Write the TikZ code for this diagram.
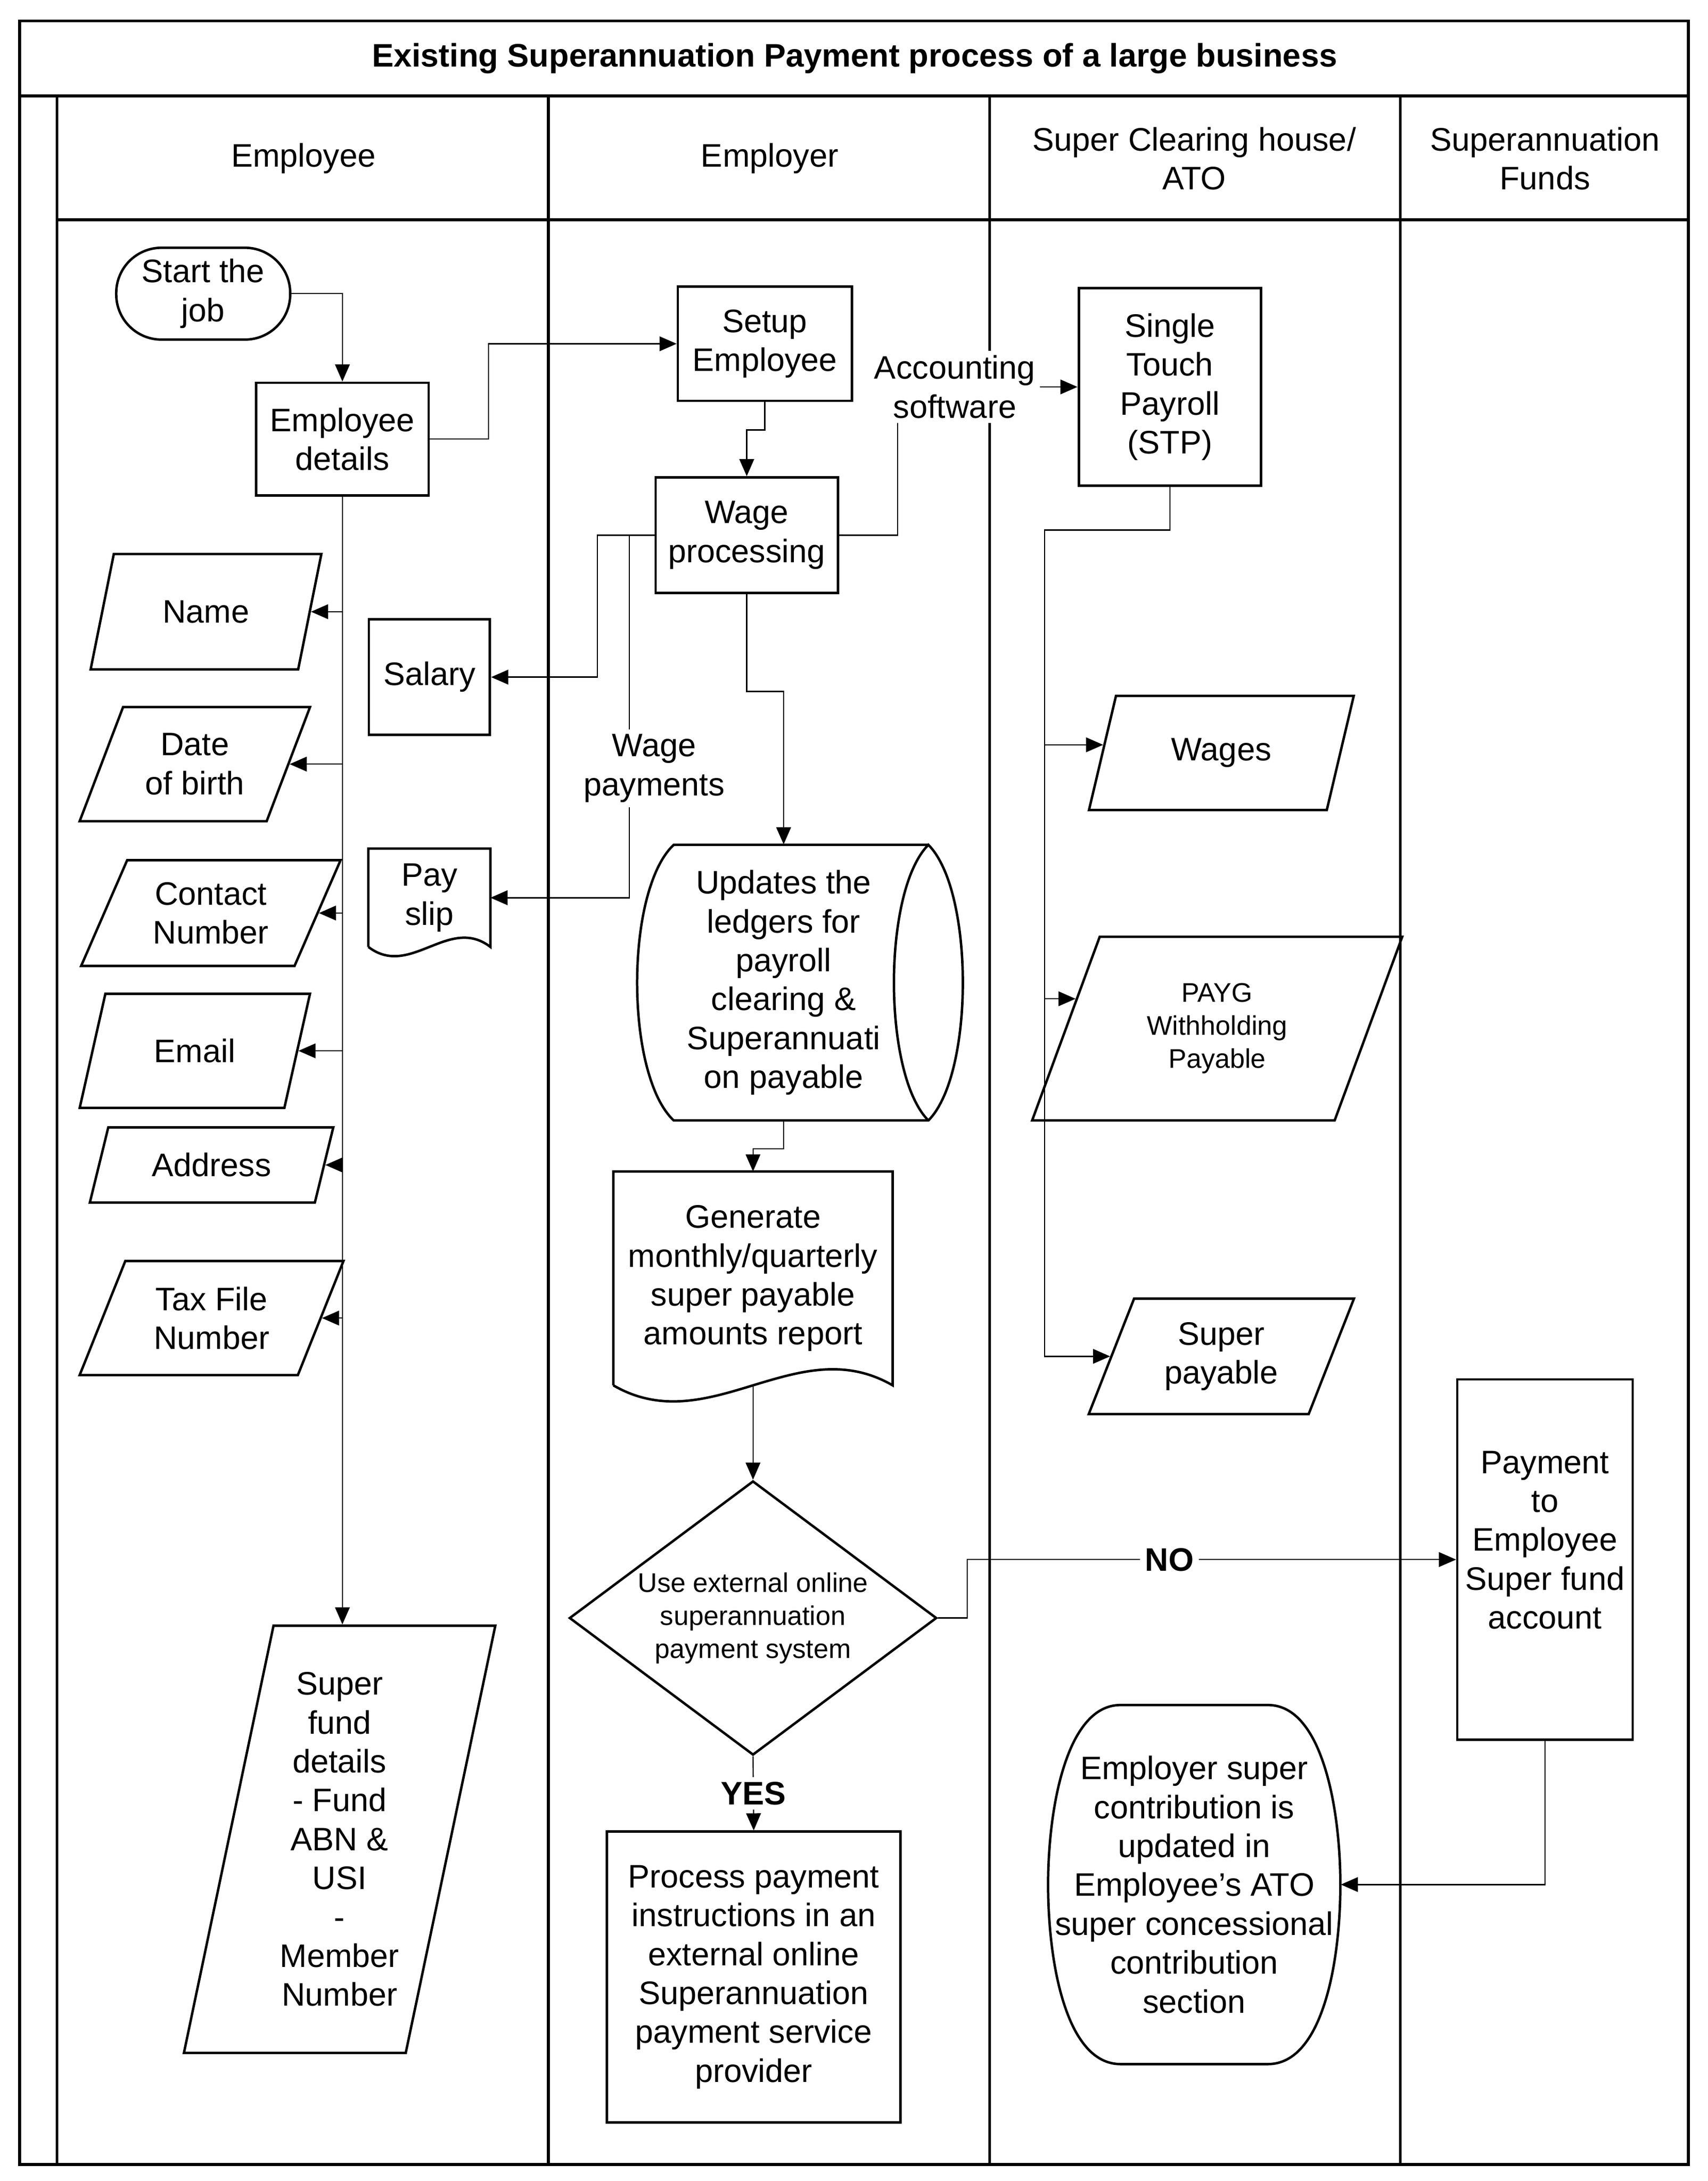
\documentclass[tikz,border=0pt]{standalone}
\usepackage{fontspec}
\setmainfont{Liberation Sans}
\usetikzlibrary{shapes.geometric,arrows.meta,calc}

\begin{document}
\begin{tikzpicture}[x=0.02cm, y=-0.02cm,
  every node/.style={font=\fontsize{13.3}{15.9}\selectfont, align=center, inner sep=1pt},
  lane/.style={line width=1.2pt},
  box/.style={draw, line width=1pt, rectangle},
  shp/.style={line width=1pt},
  io/.style={draw, line width=1pt, trapezium, trapezium left angle=#1, trapezium right angle={180-#1}, trapezium stretches=true, inner sep=0pt},
  arr/.style={line width=.5pt, -{Triangle[length=7pt,width=6pt]}},
  lbl/.style={fill=white, inner sep=2pt},
  bold/.style={font=\fontsize{13.3}{15.9}\selectfont\bfseries},
  small/.style={font=\fontsize{11}{13.5}\selectfont}
]
\useasboundingbox (0,0) rectangle (1227,1567);

% pool and lanes
\draw[lane] (14,15) rectangle (1213,1555);
\draw[lane] (14,69) -- (1213,69);
\draw[lane] (41,69) -- (41,1555);
\draw[lane] (41,158) -- (1213,158);
\draw[lane] (394,69) -- (394,1555);
\draw[lane] (711,69) -- (711,1555);
\draw[lane] (1006,69) -- (1006,1555);

\node[bold] (title) at (614,42) {Existing Superannuation Payment process of a large business};
\node (hemployee) at (218,114) {Employee};
\node (hemployer) at (553,114) {Employer};
\node (hclearing) at (858,114) {Super Clearing house/\\ATO};
\node (hfunds) at (1110,114) {Superannuation\\Funds};

% employee lane
\node[box, rounded corners=0.65cm, minimum width=2.5cm, minimum height=1.32cm] (start) at (146,211) {Start the\\job};
\node[box, minimum width=2.48cm, minimum height=1.62cm] (empdet) at (246,315.5) {Employee\\details};
\node[io=64.3, minimum width=3.32cm, minimum height=1.66cm] (name) at (148,439.5) {Name};
\node[io=64, minimum width=3.32cm, minimum height=1.64cm] (dob) at (140,549) {Date\\of birth};
\node[io=62.8, minimum width=3.74cm, minimum height=1.52cm] (contact) at (151.5,656) {Contact\\Number};
\node[io=64, minimum width=3.32cm, minimum height=1.64cm] (email) at (140,755) {Email};
\node[io=66, minimum width=3.52cm, minimum height=1.08cm] (address) at (152,837) {Address};
\node[io=64, minimum width=3.8cm, minimum height=1.64cm] (tfn) at (152,947) {Tax File\\Number};
\node[io=76.4, minimum width=4.48cm, minimum height=6.14cm] (sfd) at (244,1321.5) {Super\\fund\\details\\- Fund\\ABN \&\\USI\\-\\Member\\Number};

\node[box, minimum width=1.74cm, minimum height=1.66cm] (salary) at (308.5,486.5) {Salary};
\node[minimum width=1.74cm, minimum height=1.4cm] (payslip) at (308.5,645) {Pay\\slip};
\draw[shp] (payslip.south west) -- (payslip.north west) -- (payslip.north east) -- (payslip.south east)
  .. controls ($(payslip.south east)+(-30,-23)$) and ($(payslip.south west)+(30,23)$) .. (payslip.south west);

% employer lane
\node[box, minimum width=2.5cm, minimum height=1.64cm] (setup) at (549.5,247) {Setup\\Employee};
\node[box, minimum width=2.62cm, minimum height=1.66cm] (wage) at (536.5,384.5) {Wage\\processing};
\node[minimum width=4.2cm, minimum height=3.96cm] (ledger) at (563,706) {Updates the\\ledgers for\\payroll\\clearing \&\\Superannuati\\on payable};
\draw[shp] (667,607) -- (484,607) .. controls (449,640) and (449,772) .. (484,805) -- (667,805)
  .. controls (700,772) and (700,640) .. (667,607) .. controls (634,640) and (634,772) .. (667,805);
\node[minimum width=4cm, minimum height=3.06cm] (report) at (541,918.5) {Generate\\monthly/quarterly\\super payable\\amounts report};
\draw[shp] (report.south west) -- (report.north west) -- (report.north east) -- (report.south east)
  .. controls ($(report.south east)+(-69,-40)$) and ($(report.south west)+(69,40)$) .. (report.south west);
\node[draw, shp, diamond, aspect=1.34, minimum width=5.28cm, minimum height=3.94cm, inner sep=0pt, small] (decide) at (541,1162.5) {Use external online\\superannuation\\payment system};
\node[box, minimum width=4.22cm, minimum height=4.18cm] (process) at (541.5,1420.5) {Process payment\\instructions in an\\external online\\Superannuation\\payment service\\provider};

% clearing house lane
\node[box, minimum width=2.62cm, minimum height=2.84cm] (stp) at (840.5,278) {Single\\Touch\\Payroll\\(STP)};
\node[io=66.3, minimum width=3.82cm, minimum height=1.64cm] (wages) at (877.5,541) {Wages};
\node[io=65.9, minimum width=5.34cm, minimum height=2.64cm, small] (payg) at (874.5,739) {PAYG\\Withholding\\Payable};
\node[io=66.6, minimum width=3.82cm, minimum height=1.66cm] (superpay) at (877.5,974.5) {Super\\payable};
\node[minimum width=4.2cm, minimum height=5.16cm] (ato) at (858,1354) {Employer super\\contribution is\\updated in\\Employee’s ATO\\super concessional\\contribution\\section};
\draw[shp] (805,1225) -- (911,1225) .. controls (950,1225) and (963,1300) .. (963,1354)
  .. controls (963,1410) and (950,1483) .. (911,1483) -- (805,1483)
  .. controls (766,1483) and (753,1410) .. (753,1354) .. controls (753,1300) and (766,1225) .. (805,1225) -- cycle;

% funds lane
\node[box, minimum width=2.52cm, minimum height=5.18cm, label={[align=center, yshift=8pt]center:Payment\\to\\Employee\\Super fund\\account}] (pay) at (1110,1120.5) {};

% connectors
\draw[arr] (start.east) -| (empdet.north);
\draw[arr] (empdet.east) -- ++(42,0) |- (setup.west);
\draw[arr] (empdet.south) |- (name.east);
\draw[arr] (empdet.south) |- (dob.east);
\draw[arr] (empdet.south) |- (contact.east);
\draw[arr] (empdet.south) |- (email.east);
\draw[arr] (empdet.south) |- (address.east);
\draw[arr] (empdet.south) |- (tfn.east);
\draw[arr] (empdet.south) -- (empdet.south |- sfd.north);

\draw[arr] (setup.south) -- ++(0,20) -| (wage.north);
\draw[arr] (wage.west) -- ++(-41,0) |- (salary.east);
\draw[arr] (wage.west) -- ++(-18,0) |- (payslip.east);
\node[lbl] (wagepay) at (470,552) {Wage\\payments};
\draw[arr] (wage.east) -- ++(42,0) |- (stp.west);
\node[lbl] (accsw) at (686,278) {Accounting\\software};
\draw[arr] (wage.south) -- ++(0,70) -| (ledger.north);
\draw[arr] (ledger.south) -- ++(0,20) -| (report.north);
\draw[arr] (report.south) -- (decide.north);
\draw[arr] (decide.south) -- node[lbl, bold] (yes) {YES} (process.north);
\draw[arr] (decide.east) -- ++(21,0) |- node[lbl, bold, pos=0.707] (no) {NO} (pay.west);

\draw[arr] (stp.south) -- ++(0,31) -- ++(-90,0) |- ($(wages.top left corner)!0.43!(wages.bottom left corner)$);
\draw[arr] (stp.south) -- ++(0,31) -- ++(-90,0) |- ($(payg.top left corner)!0.34!(payg.bottom left corner)$);
\draw[arr] (stp.south) -- ++(0,31) -- ++(-90,0) |- (superpay.west);
\draw[arr] (pay.south) |- (ato.east);
\end{tikzpicture}
\end{document}
